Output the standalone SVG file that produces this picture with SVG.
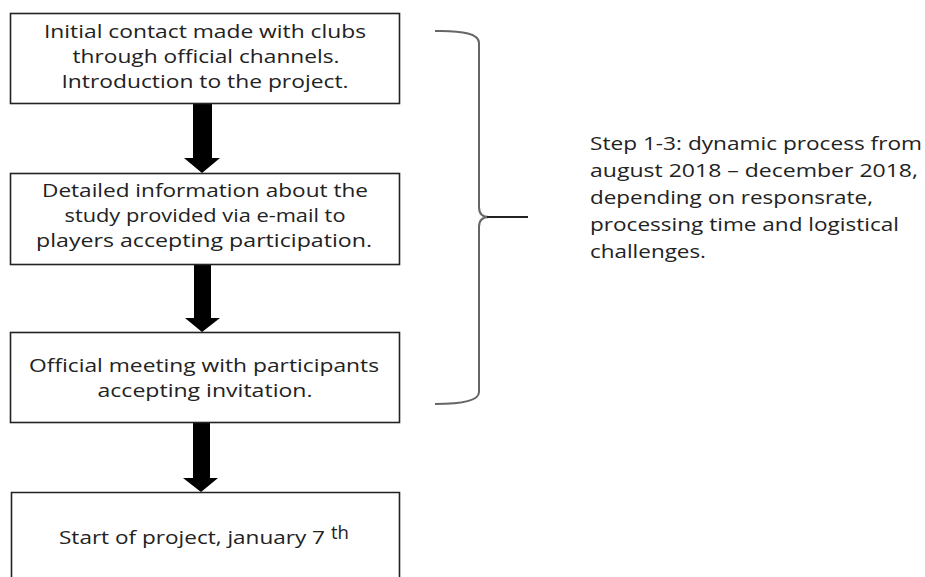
<svg xmlns="http://www.w3.org/2000/svg" width="925" height="577" viewBox="0 0 925 577">
<style>
.box{fill:#fff;stroke:#222;stroke-width:1.6}
.t{font-family:"Open Sans","Liberation Sans",sans-serif;font-size:18px;fill:#222;text-anchor:middle}
.r{font-family:"Open Sans","Liberation Sans",sans-serif;font-size:18px;fill:#222}
.arrow{fill:#000}
.brace{fill:none;stroke:#666;stroke-width:2}
</style>
<rect width="925" height="577" fill="#fff"/>
<g id="connectors">
<polygon class="arrow" points="193,103 212,103 212,158 220,158 202,173 184,158 193,158"/>
<polygon class="arrow" points="194,265 211,265 211,318 220,318 202,332 185,318 194,318"/>
<polygon class="arrow" points="193,423 210,423 210,478 218,478 201,492 183,478 193,478"/>
</g>
<g id="step1">
<rect class="box" x="10.5" y="13.5" width="389" height="90"/>
<text class="t" x="205" y="38" textLength="322" lengthAdjust="spacingAndGlyphs">Initial contact made with clubs</text>
<text class="t" x="206" y="63" textLength="267" lengthAdjust="spacingAndGlyphs">through official channels.</text>
<text class="t" x="205" y="88" textLength="287" lengthAdjust="spacingAndGlyphs">Introduction to the project.</text>
</g>
<g id="step2">
<rect class="box" x="10.5" y="173.5" width="389" height="91"/>
<text class="t" x="205" y="197" textLength="326" lengthAdjust="spacingAndGlyphs">Detailed information about the</text>
<text class="t" x="205" y="222" textLength="281" lengthAdjust="spacingAndGlyphs">study provided via e-mail to</text>
<text class="t" x="204" y="247" textLength="336" lengthAdjust="spacingAndGlyphs">players accepting participation.</text>
</g>
<g id="step3">
<rect class="box" x="10.5" y="332.5" width="389" height="90"/>
<text class="t" x="204" y="372" textLength="350" lengthAdjust="spacingAndGlyphs">Official meeting with participants</text>
<text class="t" x="205" y="397" textLength="215" lengthAdjust="spacingAndGlyphs">accepting invitation.</text>
</g>
<g id="step4">
<path class="box" d="M11.5,585 V492.5 H399.5 V585"/>
<text class="r" x="59" y="544" textLength="266" lengthAdjust="spacingAndGlyphs">Start of project, january 7</text>
<text class="r" x="331" y="539" font-size="10" textLength="18" lengthAdjust="spacingAndGlyphs">th</text>
</g>
<g id="brace">
<path class="brace" d="M435,31 Q479,30 479,43 L479,207 Q479,217 489,217 Q479,217 479,227 L479,392 Q479,404 435,404"/>
<path d="M487,217 L528,217" stroke="#222" stroke-width="2.2" fill="none"/>
</g>
<g id="note">
<text class="r" x="590" y="150" textLength="332" lengthAdjust="spacingAndGlyphs">Step 1-3: dynamic process from</text>
<text class="r" x="590" y="177" textLength="328" lengthAdjust="spacingAndGlyphs">august 2018 – december 2018,</text>
<text class="r" x="590" y="204" textLength="283" lengthAdjust="spacingAndGlyphs">depending on responsrate,</text>
<text class="r" x="590" y="231" textLength="309" lengthAdjust="spacingAndGlyphs">processing time and logistical</text>
<text class="r" x="590" y="258" textLength="116" lengthAdjust="spacingAndGlyphs">challenges.</text>
</g>
</svg>
